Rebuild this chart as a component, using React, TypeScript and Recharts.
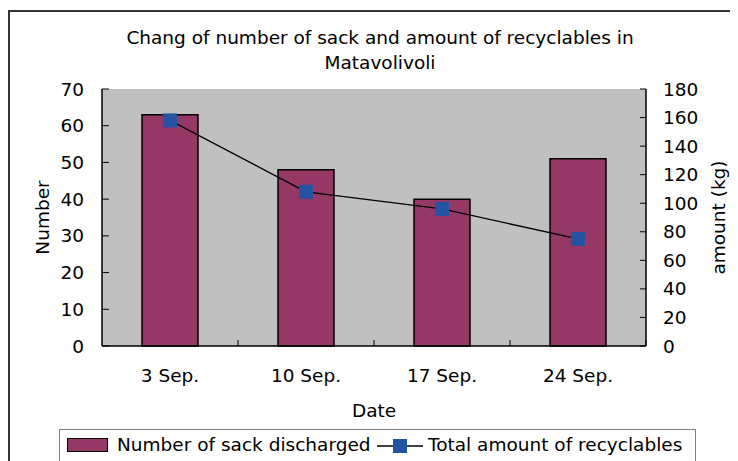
import React from 'react';
import { ComposedChart, Bar, Line, XAxis, YAxis, CartesianGrid } from 'recharts';

const dates = ['3 Sep.', '10 Sep.', '17 Sep.', '24 Sep.'];
const sacks = [63, 48, 40, 51];
const amounts = [158, 108, 96, 75];
const leftTicks = [0, 10, 20, 30, 40, 50, 60, 70];
const rightTicks = [0, 20, 40, 60, 80, 100, 120, 140, 160, 180];

const titleLines = ['Chang of number of sack and amount of recyclables in', 'Matavolivoli'];
const seriesNames = ['Number of sack discharged', 'Total amount of recyclables'];

const data = dates.map((d, i) => ({ date: d, sacks: sacks[i], amount: amounts[i] }));

const FONT = '"DejaVu Sans", Arial, sans-serif';
const FS = 18.5;
const CHART_W = 730;
const CHART_H = 453;
const LEFT_W = 94;
const RIGHT_W = 92;
const MARGIN = { top: 81, right: 0, left: 0, bottom: 35 };
const X_H = 80;
const X_TICK_MARGIN = 23;
const PLOT_W = CHART_W - LEFT_W - RIGHT_W;
const HALF_BAND = PLOT_W / dates.length / 2;

const BAR_FILL = '#953866';
const MARKER = '#2453A3';

const XTick = (props: any) => {
  const { x, y, payload } = props;
  const base = y - X_TICK_MARGIN;
  return (
    <g>
      <text x={x} y={y} dy="0.71em" textAnchor="middle" fontSize={FS} fontFamily={FONT} fill="#000">
        {payload.value}
      </text>
      <line x1={x + HALF_BAND} x2={x + HALF_BAND} y1={base} y2={base - 6} stroke="#000" strokeWidth={1} />
    </g>
  );
};

const SquareDot = (props: any) => {
  const { cx, cy, index } = props;
  if (cx == null || cy == null) return null;
  return <rect key={`d${index}`} x={cx - 7} y={cy - 7} width={14} height={14} fill={MARKER} />;
};

export default function App() {
  return (
    <div style={{ position: 'relative', width: CHART_W, height: CHART_H, fontFamily: FONT, overflow: 'hidden' }}>
      <div
        style={{
          position: 'absolute',
          left: 0,
          top: 2,
          width: 800,
          height: 600,
          borderLeft: '2px solid #333',
          borderTop: '2px solid #333',
        }}
      />
      <div
        style={{
          position: 'absolute',
          left: 0,
          top: 17,
          width: 744,
          textAlign: 'center',
          fontSize: FS,
          lineHeight: '25px',
          color: '#000',
        }}
      >
        {titleLines.map((t) => (
          <div key={t}>{t}</div>
        ))}
      </div>
      <ComposedChart width={CHART_W} height={CHART_H} data={data} margin={MARGIN} barCategoryGap={40}>
        <CartesianGrid horizontal={false} vertical={false} fill="#C0C0C0" />
        <XAxis
          dataKey="date"
          height={X_H}
          tickLine={false}
          tickSize={0}
          tickMargin={X_TICK_MARGIN}
          tick={<XTick />}
          axisLine={{ stroke: '#000', strokeWidth: 1.5 }}
          interval={0}
          label={{ value: 'Date', position: 'insideBottom', offset: 9, fontSize: FS, fill: '#000', fontFamily: FONT }}
        />
        <XAxis
          xAxisId="top"
          dataKey="date"
          orientation="top"
          height={0}
          tick={false}
          tickLine={false}
          axisLine={{ stroke: '#808080', strokeWidth: 1.5 }}
        />
        <YAxis
          yAxisId="left"
          orientation="left"
          width={LEFT_W}
          domain={[0, 70]}
          ticks={leftTicks}
          interval={0}
          tickSize={-7}
          tickMargin={25}
          tickLine={{ stroke: '#000' }}
          axisLine={{ stroke: '#000', strokeWidth: 1.5 }}
          tick={{ fontSize: FS, fill: '#000', fontFamily: FONT }}
          label={{ value: 'Number', angle: -90, position: 'center', dx: -13, fontSize: FS, fill: '#000', fontFamily: FONT }}
        />
        <YAxis
          yAxisId="right"
          orientation="right"
          width={RIGHT_W}
          domain={[0, 180]}
          ticks={rightTicks}
          interval={0}
          tickSize={-6}
          tickMargin={23}
          tickLine={{ stroke: '#000' }}
          axisLine={{ stroke: '#000', strokeWidth: 1.5 }}
          tick={{ fontSize: FS, fill: '#000', fontFamily: FONT, textAnchor: 'start' }}
          label={{ value: 'amount (kg)', angle: -90, position: 'center', dx: 26, fontSize: FS, fill: '#000', fontFamily: FONT }}
        />
        <Bar
          yAxisId="left"
          dataKey="sacks"
          name={seriesNames[0]}
          fill={BAR_FILL}
          stroke="#000"
          strokeWidth={1.5}
          barSize={56}
          isAnimationActive={false}
        />
        <Line
          yAxisId="right"
          dataKey="amount"
          name={seriesNames[1]}
          type="linear"
          stroke="#000"
          strokeWidth={1.3}
          dot={<SquareDot />}
          activeDot={false}
          isAnimationActive={false}
        />
      </ComposedChart>
      <div
        style={{
          position: 'absolute',
          left: 51,
          top: 421,
          width: 637,
          height: 40,
          border: '1px solid #808080',
          boxSizing: 'border-box',
          fontSize: FS,
          color: '#000',
        }}
      >
        <div style={{ position: 'absolute', left: 7, top: 8, width: 41, height: 14, background: BAR_FILL, border: '1.5px solid #000', boxSizing: 'border-box' }} />
        <div style={{ position: 'absolute', left: 57, top: 4, whiteSpace: 'nowrap', lineHeight: '22px' }}>{seriesNames[0]}</div>
        <svg style={{ position: 'absolute', left: 317, top: 6 }} width={46} height={20}>
          <line x1={0} x2={46} y1={10} y2={10} stroke="#000" strokeWidth={1.5} />
          <rect x={16} y={3} width={14} height={14} fill={MARKER} />
        </svg>
        <div style={{ position: 'absolute', left: 368, top: 4, whiteSpace: 'nowrap', lineHeight: '22px' }}>{seriesNames[1]}</div>
      </div>
    </div>
  );
}
